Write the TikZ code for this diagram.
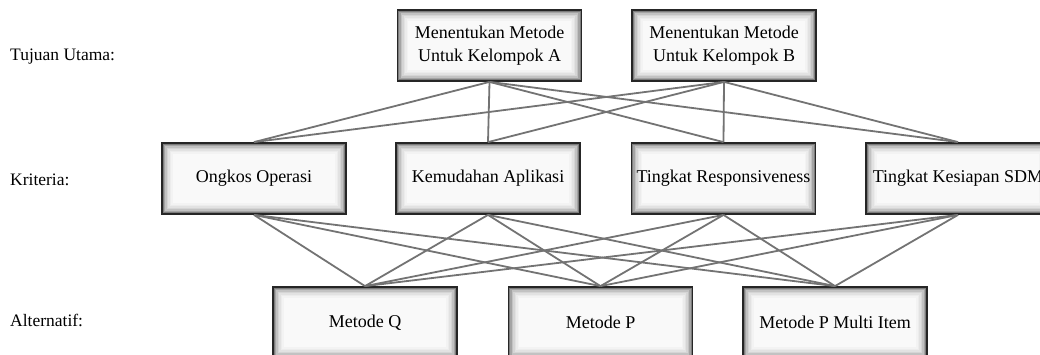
\documentclass[tikz,border=0pt]{standalone}
\usepackage{fontspec}
\setmainfont{Liberation Serif}
\tikzset{
  box/.style={draw=black!85, line width=1.8pt, fill=gray!5, minimum width=184pt, minimum height=71pt,
    inner sep=0pt, align=center, font=\fontsize{18}{23}\selectfont,
    path picture={
      \foreach \i/\o in {1/0.5,2.5/0.34,4/0.22,5.5/0.14,7/0.09,8.5/0.05,10/0.025} {
        \draw[black, opacity=\o, line width=1.6pt]
          ([shift={(\i pt,-\i pt)}]path picture bounding box.north west) rectangle
          ([shift={(-\i pt,\i pt)}]path picture bounding box.south east);
      }}},
  lbl/.style={anchor=west, inner sep=0pt, font=\fontsize{17.5}{22}\selectfont},
  link/.style={draw=black!55, line width=1.8pt}
}
\begin{document}
\begin{tikzpicture}[x=1pt,y=-1pt]
\useasboundingbox (0,0) rectangle (1040,354);
\clip (0,0) rectangle (1040,354);
\node[lbl] (l1) at (10,57) {Tujuan Utama:};
\node[lbl] (l2) at (10,180) {Kriteria:};
\node[lbl] (l3) at (10,320) {Alternatif:};

\node[box] (A) at (489.5,45.5) {Menentukan Metode\\Untuk Kelompok A};
\node[box] (B) at (724,45.5) {Menentukan Metode\\Untuk Kelompok B};

\node[box] (O) at (254,178.5) {Ongkos Operasi};
\node[box] (K) at (488,178.5) {Kemudahan Aplikasi};
\node[box] (R) at (723.5,178.5) {Tingkat Responsiveness};
\node[box] (S) at (958,178.5) {Tingkat Kesiapan SDM};

\node[box] (Q) at (365,322.5) {Metode Q};
\node[box] (P) at (600.5,322.5) {Metode P};
\node[box] (M) at (835,322.5) {Metode P Multi Item};

\foreach \u in {A,B} \foreach \c in {O,K,R,S} \draw[link] (\u.south) -- (\c.north);
\foreach \c in {O,K,R,S} \foreach \a in {Q,P,M} \draw[link] (\c.south) -- (\a.north);
\end{tikzpicture}
\end{document}
